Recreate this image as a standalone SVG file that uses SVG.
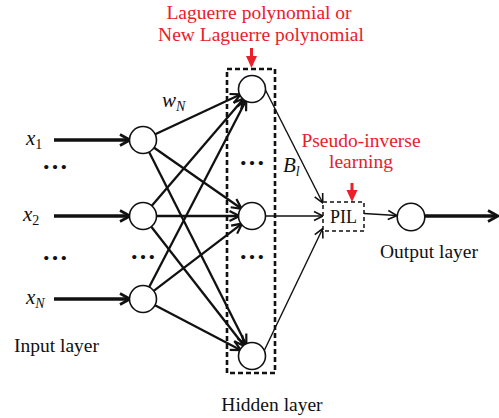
<svg xmlns="http://www.w3.org/2000/svg" width="499" height="418" viewBox="0 0 499 418">
  <style>
    text { font-family: "Liberation Serif", "Times New Roman", serif; fill: #111; }
    .lbl { font-size: 19.5px; }
    .red { fill: #e8202a; font-size: 19.5px; }
    .var { font-size: 21px; font-style: italic; }
    .sub { font-size: 14px; }
    .dots { font-size: 26px; font-weight: bold; }
    .node { fill: #fff; stroke: #111; stroke-width: 1.6; }
    .thick { stroke: #111; stroke-width: 3.6; fill: none; marker-end: url(#ahThick); }
    .mid { stroke: #111; stroke-width: 2.3; fill: none; marker-end: url(#ahMid); }
    .thin { stroke: #111; stroke-width: 1.4; fill: none; marker-end: url(#ahThin); }
    .layerbox { fill: none; stroke: #111; stroke-width: 2.6; stroke-dasharray: 5 3; }
    .pilbox { fill: #fff; stroke: #111; stroke-width: 1.5; stroke-dasharray: 4 3; }
    .redarrow { fill: #e8202a; }
  </style>
  <defs>
    <marker id="ahThick" viewBox="-14 -8 16 16" refX="-1" refY="0" markerWidth="16" markerHeight="16" markerUnits="userSpaceOnUse" orient="auto">
      <path d="M-10,-5.5 L0,0 L-10,5.5" fill="none" stroke="#111" stroke-width="2.6"/>
    </marker>
    <marker id="ahMid" viewBox="-14 -8 16 16" refX="-1" refY="0" markerWidth="16" markerHeight="16" markerUnits="userSpaceOnUse" orient="auto">
      <path d="M-10,-5 L0,0 L-10,5" fill="none" stroke="#111" stroke-width="2.2"/>
    </marker>
    <marker id="ahThin" viewBox="-14 -8 16 16" refX="-0.5" refY="0" markerWidth="16" markerHeight="16" markerUnits="userSpaceOnUse" orient="auto">
      <path d="M-9,-4.5 L0,0 L-9,4.5" fill="none" stroke="#111" stroke-width="1.6"/>
    </marker>
  </defs>

  <!-- hidden layer frame -->
  <rect class="layerbox" x="227" y="69" width="48" height="304"/>

  <g id="connectors">
    <!-- inputs -->
    <line class="thick" x1="54" y1="140" x2="129" y2="140"/>
    <line class="thick" x1="54" y1="216" x2="129" y2="216"/>
    <line class="thick" x1="54" y1="299" x2="129" y2="299"/>
    <!-- input layer to hidden layer -->
    <line class="mid" x1="155.2" y1="134.3" x2="239.8" y2="94.7"/>
    <line class="mid" x1="154.1" y1="147.7" x2="240.9" y2="208.3"/>
    <line class="mid" x1="149.1" y1="152.1" x2="245.9" y2="343.9"/>
    <line class="mid" x1="151.8" y1="205.8" x2="243.2" y2="99.2"/>
    <line class="mid" x1="156.5" y1="216" x2="238.5" y2="216"/>
    <line class="mid" x1="151.3" y1="226.7" x2="243.7" y2="345.3"/>
    <line class="mid" x1="149.2" y1="287" x2="245.8" y2="101"/>
    <line class="mid" x1="153.7" y1="290.8" x2="241.3" y2="224.2"/>
    <line class="mid" x1="155" y1="305.3" x2="240" y2="349.7"/>
    <!-- hidden layer to PIL -->
    <line class="thin" x1="264.5" y1="88" x2="322.5" y2="202.5"/>
    <line class="thin" x1="265.5" y1="216" x2="322.5" y2="216"/>
    <line class="thin" x1="264.5" y1="350" x2="322.5" y2="229"/>
    <!-- PIL to output -->
    <line class="thin" x1="364" y1="213.5" x2="396.5" y2="215.5"/>
    <line class="thick" x1="424.5" y1="216" x2="497" y2="216"/>
    <!-- annotation arrows -->
    <rect class="redarrow" x="250" y="48" width="3" height="10"/>
    <path class="redarrow" d="M246,56 L257,56 L251.5,68 Z"/>
    <rect class="redarrow" x="350.5" y="183" width="3" height="9"/>
    <path class="redarrow" d="M346.5,190 L357.5,190 L352,202 Z"/>
  </g>

  <g id="input-1"><circle class="node" cx="143" cy="140" r="13.5"/></g>
  <g id="input-2"><circle class="node" cx="143" cy="216" r="13.5"/></g>
  <g id="input-N"><circle class="node" cx="143" cy="299" r="13.5"/></g>
  <g id="hidden-1"><circle class="node" cx="252" cy="89" r="13.5"/></g>
  <g id="hidden-2"><circle class="node" cx="252" cy="216" r="13.5"/></g>
  <g id="hidden-L"><circle class="node" cx="252" cy="356" r="13.5"/></g>
  <g id="pil">
    <rect class="pilbox" x="323" y="202" width="41" height="29"/>
    <text x="343.5" y="223" text-anchor="middle" style="font-size:18px">PIL</text>
  </g>
  <g id="output"><circle class="node" cx="411" cy="217" r="13.8"/></g>

  <!-- variable labels -->
  <text class="var" x="26" y="145">x<tspan class="sub" dy="4" font-style="normal">1</tspan></text>
  <text class="var" x="23" y="221">x<tspan class="sub" dy="4" font-style="normal">2</tspan></text>
  <text class="var" x="26" y="304">x<tspan class="sub" dy="4">N</tspan></text>
  <text class="var" x="162" y="107">w<tspan class="sub" dy="4">N</tspan></text>
  <text class="var" x="283" y="172">B<tspan class="sub" dy="4">l</tspan></text>

  <!-- ellipses -->
  <text class="dots" x="55" y="169" text-anchor="middle">…</text>
  <text class="dots" x="55" y="260" text-anchor="middle">…</text>
  <text class="dots" x="143" y="259" text-anchor="middle">…</text>
  <text class="dots" x="252" y="165" text-anchor="middle">…</text>
  <text class="dots" x="252" y="259" text-anchor="middle">…</text>

  <!-- layer captions -->
  <text class="lbl" x="14" y="352">Input layer</text>
  <text class="lbl" x="272" y="411" text-anchor="middle">Hidden layer</text>
  <text class="lbl" x="429" y="258" text-anchor="middle">Output layer</text>

  <!-- annotations -->
  <text class="red" x="259" y="19" text-anchor="middle">Laguerre polynomial or</text>
  <text class="red" x="261" y="41" text-anchor="middle">New Laguerre polynomial</text>
  <text class="red" x="361" y="147" text-anchor="middle">Pseudo-inverse</text>
  <text class="red" x="361" y="168" text-anchor="middle">learning</text>
</svg>
